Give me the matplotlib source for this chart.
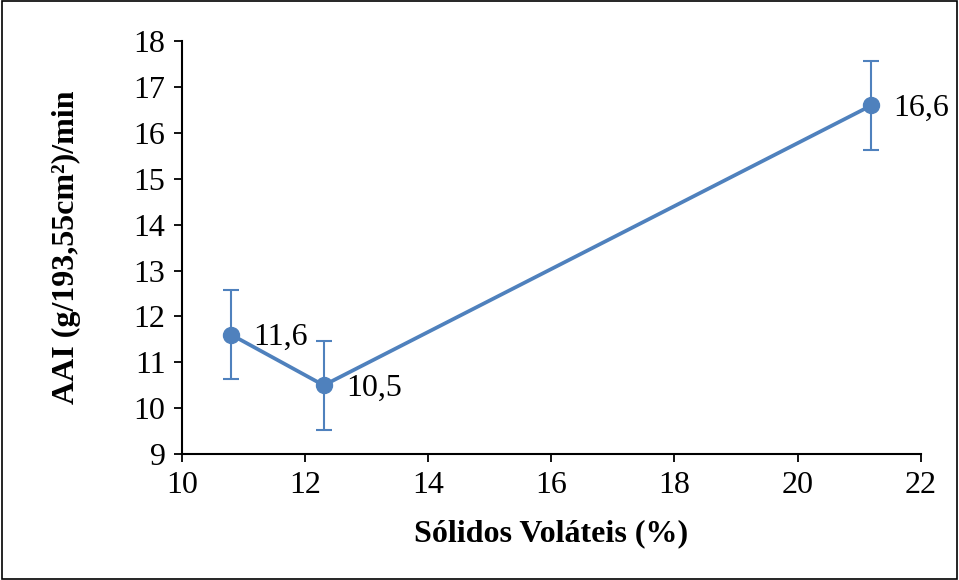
import matplotlib
matplotlib.use("Agg")
import matplotlib.pyplot as plt
from matplotlib.patches import Rectangle

plt.rcParams['font.family'] = ['Liberation Serif', 'DejaVu Serif']

solidos = [10.8, 12.3, 21.2]
aai = [11.6, 10.5, 16.6]
erro = [0.97, 0.97, 0.97]
rotulos = ["11,6", "10,5", "16,6"]
xticks = [10, 12, 14, 16, 18, 20, 22]
yticks = [9, 10, 11, 12, 13, 14, 15, 16, 17, 18]

cor = "#4F81BD"
fs = 23

fig = plt.figure(figsize=(9.59, 5.80), dpi=100)
ax = fig.add_axes([0.19, 0.217, 0.77, 0.712])

ax.errorbar(solidos, aai, yerr=erro, color=cor, lw=2.7, marker='o', ms=11.5,
            ecolor=cor, elinewidth=1.5, capsize=6, capthick=1.5, zorder=3)

for x, y, t in zip(solidos, aai, rotulos):
    ax.annotate(t, (x, y), xytext=(16, -2), textcoords='offset points',
                ha='left', va='center', fontsize=fs)

ax.set_xlim(10, 22)
ax.set_ylim(9, 18)
ax.set_xticks(xticks)
ax.set_yticks(yticks)
ax.tick_params(direction='out', length=6, width=1.3, labelsize=fs, pad=6)
for s in ['top', 'right']:
    ax.spines[s].set_visible(False)
for s in ['left', 'bottom']:
    ax.spines[s].set_linewidth(1.5)

ax.set_xlabel("Sólidos Voláteis (%)", fontsize=fs, fontweight='bold', labelpad=14)
ax.set_ylabel("AAI (g/193,55cm²)/min", fontsize=fs, fontweight='bold', labelpad=38)

fig.patches.append(Rectangle((0.002, 0.002), 0.996, 0.996, transform=fig.transFigure,
                             fill=False, edgecolor='black', lw=1.2))

fig.savefig("out.png", dpi=100)
